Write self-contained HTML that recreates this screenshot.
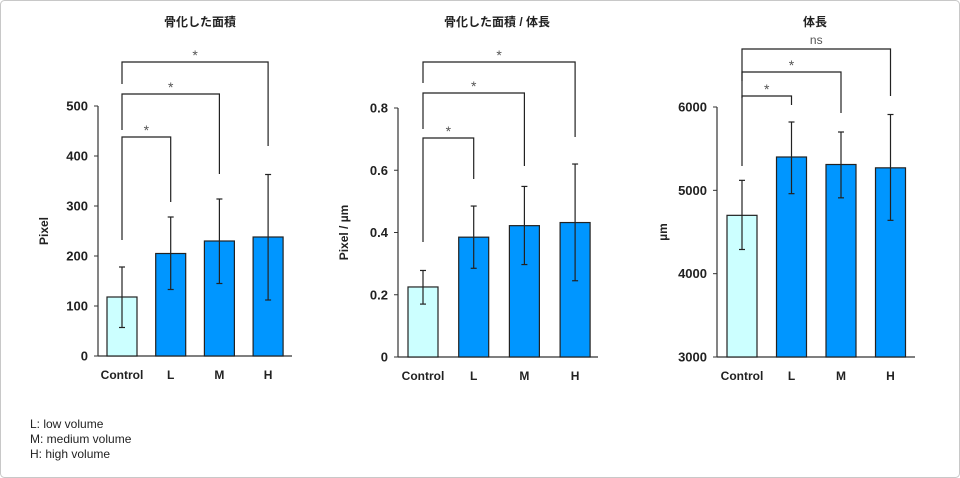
<!DOCTYPE html>
<html><head><meta charset="utf-8"><style>
body{margin:0;background:#fff;}
svg{display:block;font-family:"Liberation Sans","Noto Sans CJK JP",sans-serif;}
</style></head><body>
<svg id="c" width="960" height="478" viewBox="0 0 960 478">
<rect x="0.5" y="0.5" width="959" height="477" rx="4" fill="#fff" stroke="#c8c8c8"/>
<g id="legend" font-size="12" fill="#222">
<text x="30" y="428">L: low volume</text>
<text x="30" y="443">M: medium volume</text>
<text x="30" y="458">H: high volume</text>
</g>
</svg>
<script>
const categories = ["Control","L","M","H"];
const areaValues = [118,205,230,238];
const areaErrLow = [57,133,145,112];
const areaErrHigh = [178,278,314,363];
const areaTicks = [0,100,200,300,400,500];
const ratioValues = [0.225,0.385,0.422,0.432];
const ratioErrLow = [0.17,0.285,0.297,0.245];
const ratioErrHigh = [0.278,0.485,0.548,0.62];
const ratioTicks = [0,0.2,0.4,0.6,0.8];
const lenValues = [4700,5400,5310,5270];
const lenErrLow = [4290,4960,4910,4640];
const lenErrHigh = [5120,5820,5700,5910];
const lenTicks = [3000,4000,5000,6000];
const sigLabels = [["*","*","*"],["*","*","*"],["*","*","ns"]];

const svg=document.getElementById('c');
const NS='http://www.w3.org/2000/svg';
function mk(t,a,p){const e=document.createElementNS(NS,t);for(const k in a)e.setAttribute(k,a[k]);(p||svg).appendChild(e);return e;}

const panels=[
 {name:'area',title:'骨化した面積',yt:'Pixel',vals:areaValues,lo:areaErrLow,hi:areaErrHigh,ticks:areaTicks,min:0,max:500,ax:98,y0:356,y1:106,c0:122,step:48.7,xend:292,
  br:[{top:137,ls:240,re:202},{top:94,ls:130,re:174},{top:62,ls:84,re:146}],sig:sigLabels[0],tx:200},
 {name:'ratio',title:'骨化した面積 / 体長',yt:'Pixel / µm',vals:ratioValues,lo:ratioErrLow,hi:ratioErrHigh,ticks:ratioTicks,min:0,max:0.8,ax:398,y0:357,y1:108,c0:423,step:50.7,xend:598,
  br:[{top:138,ls:242,re:179},{top:93,ls:129,re:166},{top:62,ls:83,re:137}],sig:sigLabels[1],tx:497},
 {name:'length',title:'体長',yt:'µm',vals:lenValues,lo:lenErrLow,hi:lenErrHigh,ticks:lenTicks,min:3000,max:6000,ax:717,y0:357,y1:107,c0:742,step:49.5,xend:915,
  br:[{top:96,ls:166,re:105},{top:72,ls:98,re:113},{top:49,ls:81,re:96}],sig:sigLabels[2],tx:815}
];
panels.forEach(p=>{
 const g=mk('g',{});
 
 
 const y=v=>p.y0-(v-p.min)/(p.max-p.min)*(p.y0-p.y1);
 const x=i=>p.c0+i*p.step;
 const t=mk('text',{x:p.tx,y:26,'text-anchor':'middle','font-size':12,'font-weight':'bold',fill:'#222'},g);t.textContent=p.title;
 
 
 const ya=mk('text',{transform:`translate(${p.ax-50},${(p.y0+p.y1)/2}) rotate(-90)`,'text-anchor':'middle','font-size':12,'font-weight':'bold',fill:'#222'},g);ya.textContent=p.yt;
 
 
 mk('line',{x1:p.ax,y1:p.y1,x2:p.ax,y2:p.y0,stroke:'#333','stroke-width':1.2},g);
 mk('line',{x1:p.ax,y1:p.y0,x2:p.xend,y2:p.y0,stroke:'#333','stroke-width':1.2},g);
 p.ticks.forEach(v=>{
  mk('line',{x1:p.ax-4,y1:y(v),x2:p.ax,y2:y(v),stroke:'#333'},g);
  const tl=mk('text',{x:p.ax-10,y:y(v)+4.5,'text-anchor':'end','font-size':13,'font-weight':'bold',fill:'#222'},g);tl.textContent=String(v);
  
  
 });
 categories.forEach((c,i)=>{
  const b=mk('rect',{x:x(i)-15,y:y(p.vals[i]),width:30,height:p.y0-y(p.vals[i]),fill:i?'#0096ff':'#ccffff',stroke:'#222','stroke-width':1.2},g);
  
  
  mk('line',{x1:x(i),y1:y(p.lo[i]),x2:x(i),y2:y(p.hi[i]),stroke:'#222','stroke-width':1.2},g);
  mk('line',{x1:x(i)-3,y1:y(p.lo[i]),x2:x(i)+3,y2:y(p.lo[i]),stroke:'#222','stroke-width':1.2},g);
  mk('line',{x1:x(i)-3,y1:y(p.hi[i]),x2:x(i)+3,y2:y(p.hi[i]),stroke:'#222','stroke-width':1.2},g);
  const xl=mk('text',{x:x(i),y:p.y0+23,'text-anchor':'middle','font-size':12,'font-weight':'bold',fill:'#222'},g);xl.textContent=c;
  
  
 });
 p.br.forEach((b,k)=>{
  const xr=x(k+1);
  const pl=mk('polyline',{points:`${x(0)},${b.ls} ${x(0)},${b.top} ${xr},${b.top} ${xr},${b.re}`,fill:'none',stroke:'#222','stroke-width':1.2},g);
  
  
  const s=p.sig[k];
  const st=mk('text',{x:(x(0)+xr)/2,y:b.top-(s==='ns'?5:2),'text-anchor':'middle','font-size':s==='ns'?12:14,fill:'#555'},g);st.textContent=s;
  
  
 });
});
</script>
</body></html>
